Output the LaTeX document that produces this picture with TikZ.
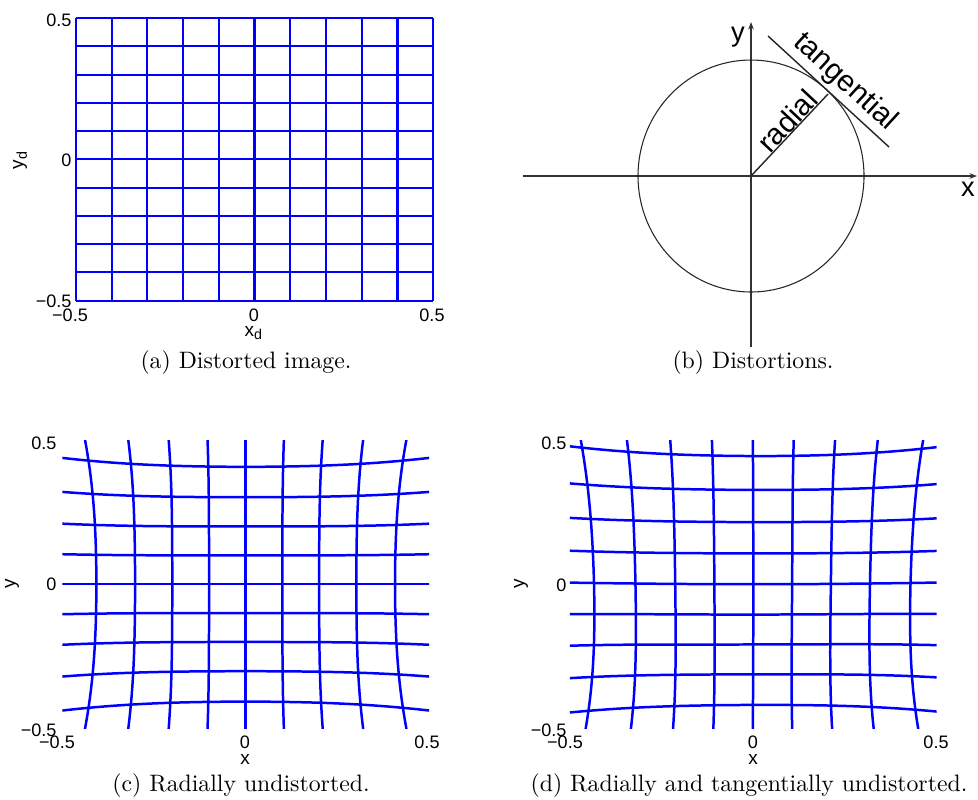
\documentclass[tikz,border=0pt]{standalone}
\usepackage{fontspec}
\setsansfont{Liberation Sans}
\usetikzlibrary{arrows.meta, positioning}

\begin{document}
\begin{tikzpicture}[
  x=0.421pt, y=-0.421pt, >=Stealth,
  ticklab/.style={font=\sffamily\fontsize{7.6}{9}\selectfont, inner sep=0pt},
  axlab/.style={font=\sffamily\fontsize{8}{9.5}\selectfont, inner sep=0pt},
  biglab/.style={font=\sffamily\fontsize{12.5}{14}\selectfont, inner sep=0pt},
  xylab/.style={font=\sffamily\fontsize{11.5}{13}\selectfont, inner sep=0pt},
  capt/.style={font=\rmfamily\fontsize{10}{12}\selectfont, inner sep=0pt},
  grida/.style={draw=blue, line width=0.85pt},
  gridc/.style={draw=blue, line width=1.05pt},
  axline/.style={draw=black!80, line width=0.45pt, -{Stealth[length=3.2pt, width=2.4pt]}},
  fine/.style={draw=black!85, line width=0.45pt},
  declare function={
    ux(\xa,\ya)=(\xa)*(1+0.7*((\xa)*(\xa)+(\ya)*(\ya))^2);
    uy(\xa,\ya)=(\ya)*(1+0.7*((\xa)*(\xa)+(\ya)*(\ya))^2);
    vx(\xa,\ya)=1.06*ux(\xa,\ya)+0.054*(\xa)*(\ya)-0.006*(3*(\xa)*(\xa)+(\ya)*(\ya));
    vy(\xa,\ya)=1.06*uy(\xa,\ya)+0.027*((\xa)*(\xa)+3*(\ya)*(\ya))-0.012*(\xa)*(\ya);}]
  \useasboundingbox (0,0) rectangle (978,799);

  % (a) distorted grid
  \begin{scope}[shift={(254.5,159.3)}, x=150.5pt, y=119pt]
    \foreach \i in {-5,...,5} {
      \draw[grida] (\i/10,-0.5) -- (\i/10,0.5);
      \draw[grida] (-0.5,\i/10) -- (0.5,\i/10);
    }
  \end{scope}
  \node[ticklab, anchor=east] (ay1) at (72,20)  {0.5};
  \node[ticklab, anchor=east] (ay0) at (72,160) {0};
  \node[ticklab, anchor=east] (ay2) at (72,301) {−0.5};
  \node[ticklab] (ax1) at (70,315)  {−0.5};
  \node[ticklab] (ax0) at (254,315) {0};
  \node[ticklab] (ax2) at (432,315) {0.5};
  \node[axlab] (axl) at (254,333) {x\textsubscript{d}};
  \node[axlab, rotate=90] (ayl) at (20,160) {y\textsubscript{d}};
  \node[capt] (capa) at (246,363) {(a) Distorted image.};

  % (b) distortions
  \coordinate (O)  at (751,176);
  \coordinate (xw) at (523,176);
  \coordinate (xe) at (977,176);
  \coordinate (ys) at (751,347);
  \coordinate (yn) at (751,22);
  \coordinate (R)  at (828,94);
  \coordinate (T1) at (768,36);
  \coordinate (T2) at (889,147);
  \draw[axline] (xw) -- (xe);
  \draw[axline] (ys) -- (yn);
  \draw[fine] (O) ellipse [x radius=113, y radius=116];
  \draw[fine, line width=0.6pt] (O) -- (R);
  \draw[fine, line width=0.6pt] (T1) -- (T2);
  \node[biglab, rotate=47] (rad) at (787,121) {radial};
  \node[biglab, rotate=-42.5] (tang) at (845,82) {tangential};
  \node[xylab] (yl) at (738,37) {y};
  \node[xylab] (xl) at (968,189) {x};
  \node[capt] (capb) at (753,363) {(b) Distortions.};

  % (c) radially undistorted
  \begin{scope}[shift={(245.7,584.2)}, x=154.4pt, y=121.4pt]
    \clip (-0.5,-0.5) rectangle (0.5,0.5);
    \foreach \i in {-4,...,4} {
      \draw[gridc] plot[domain=-0.5:0.5, samples=41, smooth, variable=\t]
        ({ux(\i/10,\t)}, {uy(\i/10,\t)});
      \draw[gridc] plot[domain=-0.5:0.5, samples=41, smooth, variable=\t]
        ({ux(\t,\i/10)}, {uy(\t,\i/10)});
    }
  \end{scope}
  \node[ticklab, anchor=east] (cy1) at (57,443) {0.5};
  \node[ticklab, anchor=east] (cy0) at (57,584) {0};
  \node[ticklab, anchor=east] (cy2) at (57,730) {−0.5};
  \node[ticklab] (cx1) at (57,742)  {−0.5};
  \node[ticklab] (cx0) at (245,742) {0};
  \node[ticklab] (cx2) at (427,742) {0.5};
  \node[axlab] (cxl) at (245,759) {x};
  \node[axlab, rotate=90] (cyl) at (12,584) {y};
  \node[capt] (capc) at (241,786) {(c) Radially undistorted.};

  % (d) radially and tangentially undistorted
  \begin{scope}[shift={(753.3,584.2)}, x=154.4pt, y=121.4pt]
    \clip (-0.5,-0.5) rectangle (0.5,0.5);
    \foreach \i in {-4,...,4} {
      \draw[gridc] plot[domain=-0.5:0.5, samples=41, smooth, variable=\t]
        ({vx(\i/10,\t)}, {vy(\i/10,\t)});
      \draw[gridc] plot[domain=-0.5:0.5, samples=41, smooth, variable=\t]
        ({vx(\t,\i/10)}, {vy(\t,\i/10)});
    }
  \end{scope}
  \node[ticklab, anchor=east] (dy1) at (567,443) {0.5};
  \node[ticklab, anchor=east] (dy0) at (567,585) {0};
  \node[ticklab, anchor=east] (dy2) at (567,730) {−0.5};
  \node[ticklab] (dx1) at (565,742) {−0.5};
  \node[ticklab] (dx0) at (753,742) {0};
  \node[ticklab] (dx2) at (936,742) {0.5};
  \node[axlab] (dxl) at (753,759) {x};
  \node[axlab, rotate=90] (dyl) at (521,584) {y};
  \node[capt] (capd) at (749,786) {(d) Radially and tangentially undistorted.};
\end{tikzpicture}
\end{document}
